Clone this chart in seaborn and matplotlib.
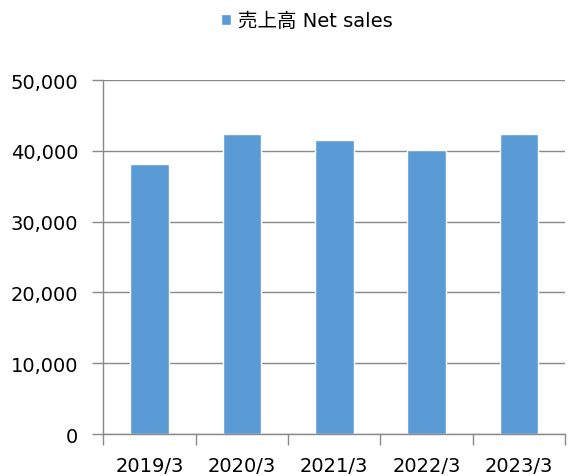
import pandas as pd
import seaborn as sns
import matplotlib.pyplot as plt
from matplotlib.ticker import FuncFormatter, FixedLocator

years = ['2019/3', '2020/3', '2021/3', '2022/3', '2023/3']
net_sales = [38150, 42400, 41500, 40100, 42400]
series_name = '売上高 Net sales'

df = pd.DataFrame({'year': years, 'sales': net_sales, 'series': series_name})

sns.set_style('white')
plt.rcParams['font.family'] = ['DejaVu Sans', 'Noto Sans CJK JP']
plt.rcParams['text.color'] = 'black'

fig, ax = plt.subplots(figsize=(5.68, 4.77), dpi=100)
fig.subplots_adjust(left=0.182, right=0.995, bottom=0.088, top=0.830)

sns.barplot(ax=ax, data=df, x='year', y='sales', hue='series',
            palette=['#5B9BD5'], width=0.42, dodge=False, saturation=1)

ax.set_xlim(-0.5, 4.5)
ax.set_ylim(0, 50000)
ax.set_yticks(range(0, 50001, 10000))
ax.yaxis.set_major_formatter(FuncFormatter(lambda v, p: f'{int(v):,}'))
ax.yaxis.grid(True, color='#898989', lw=1)
ax.set_axisbelow(True)
ax.set_xlabel('')
ax.set_ylabel('')

# tick marks between categories
ax.xaxis.set_minor_locator(FixedLocator([-0.5, 0.5, 1.5, 2.5, 3.5, 4.5]))
ax.tick_params(axis='x', which='major', length=0, labelsize=14, pad=16, labelcolor='black')
ax.tick_params(axis='x', which='minor', length=8, width=1, color='#898989', direction='out', bottom=True)
ax.tick_params(axis='y', length=8, width=1, color='#898989', direction='out', left=True,
               labelsize=14, pad=10, labelcolor='black')

for s in ['top', 'right']:
    ax.spines[s].set_visible(False)
for s in ['left', 'bottom']:
    ax.spines[s].set_color('#898989')
    ax.spines[s].set_linewidth(1)

handles, labels = ax.get_legend_handles_labels()
ax.get_legend().remove()
fig.legend(handles, labels, loc='center', bbox_to_anchor=(0.54, 0.954), frameon=False,
           fontsize=14, handlelength=0.55, handleheight=0.55, handletextpad=0.35,
           labelcolor='black')

fig.savefig('out.png', dpi=100, facecolor='white')
